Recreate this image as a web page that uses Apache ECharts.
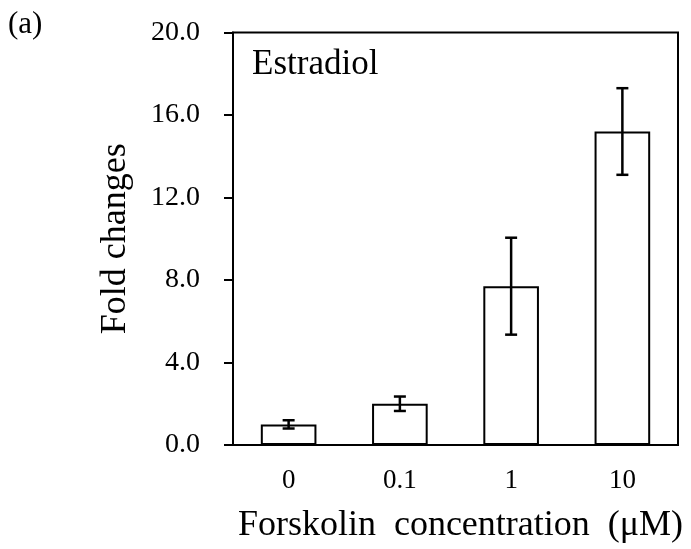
<!DOCTYPE html>
<html>
<head>
<meta charset="utf-8">
<script src="https://cdn.jsdelivr.net/npm/echarts@6/dist/echarts.min.js"></script>
<style>html,body{margin:0;padding:0;background:#fff;overflow:hidden;}#chart{width:691px;height:549px;}</style>
</head>
<body>
<div id="chart"></div>
<script>
var categories = ['0', '0.1', '1', '10'];
var foldValues = [1.0, 2.0, 7.7, 15.2];
var errorValues = [0.2, 0.35, 2.35, 2.1];
var yTicks = { min: 0, max: 20, interval: 4 };

var FONT = '"Liberation Serif", "Times New Roman", serif';
var chart = echarts.init(document.getElementById('chart'));

var errData = categories.map(function (c, i) {
  return [i, foldValues[i] - errorValues[i], foldValues[i] + errorValues[i]];
});

chart.setOption({
  animation: false,
  backgroundColor: '#fff',
  grid: { left: 233, right: 13, top: 32.5, bottom: 103.5, show: true, borderColor: '#000', borderWidth: 2, backgroundColor: 'transparent' },
  graphic: [
    { type: 'text', left: 8, top: 9, style: { text: '(a)', font: '31px ' + FONT, fill: '#000' } },
    { type: 'text', left: 252, top: 47, style: { text: 'Estradiol', font: '35px ' + FONT, fill: '#000' } }
  ],
  xAxis: {
    type: 'category',
    data: categories,
    name: 'Forskolin  concentration  (\u03bcM)',
    nameLocation: 'middle',
    nameGap: 63,
    nameTextStyle: { fontFamily: FONT, fontSize: 36, color: '#000', padding: [0, 0, 0, 10] },
    axisLine: { lineStyle: { color: '#000', width: 2 } },
    axisTick: { show: false },
    axisLabel: { fontFamily: FONT, fontSize: 27, color: '#000', margin: 22 }
  },
  yAxis: {
    type: 'value',
    min: yTicks.min, max: yTicks.max, interval: yTicks.interval,
    name: 'Fold changes',
    nameLocation: 'middle',
    nameGap: 99,
    nameTextStyle: { fontFamily: FONT, fontSize: 36, color: '#000' },
    axisLine: { show: true, lineStyle: { color: '#000', width: 2 } },
    axisTick: { show: true, inside: false, length: 9, lineStyle: { color: '#000', width: 2 } },
    splitLine: { show: false },
    axisLabel: { fontFamily: FONT, fontSize: 28, color: '#000', margin: 33, formatter: function (v) { return v.toFixed(1); } }
  },
  series: [
    {
      type: 'bar',
      data: foldValues,
      barWidth: '50%',
      itemStyle: { color: '#fff', borderColor: '#000', borderWidth: 2 }
    },
    {
      type: 'custom',
      data: errData,
      z: 10,
      renderItem: function (params, api) {
        var x = api.value(0);
        var lo = api.coord([x, api.value(1)]);
        var hi = api.coord([x, api.value(2)]);
        var half = 6;
        var st = { stroke: '#000', lineWidth: 2.5 };
        return {
          type: 'group',
          children: [
            { type: 'line', shape: { x1: hi[0], y1: hi[1], x2: lo[0], y2: lo[1] }, style: st },
            { type: 'line', shape: { x1: hi[0] - half, y1: hi[1], x2: hi[0] + half, y2: hi[1] }, style: st },
            { type: 'line', shape: { x1: lo[0] - half, y1: lo[1], x2: lo[0] + half, y2: lo[1] }, style: st }
          ]
        };
      }
    }
  ]
});
</script>
</body>
</html>
